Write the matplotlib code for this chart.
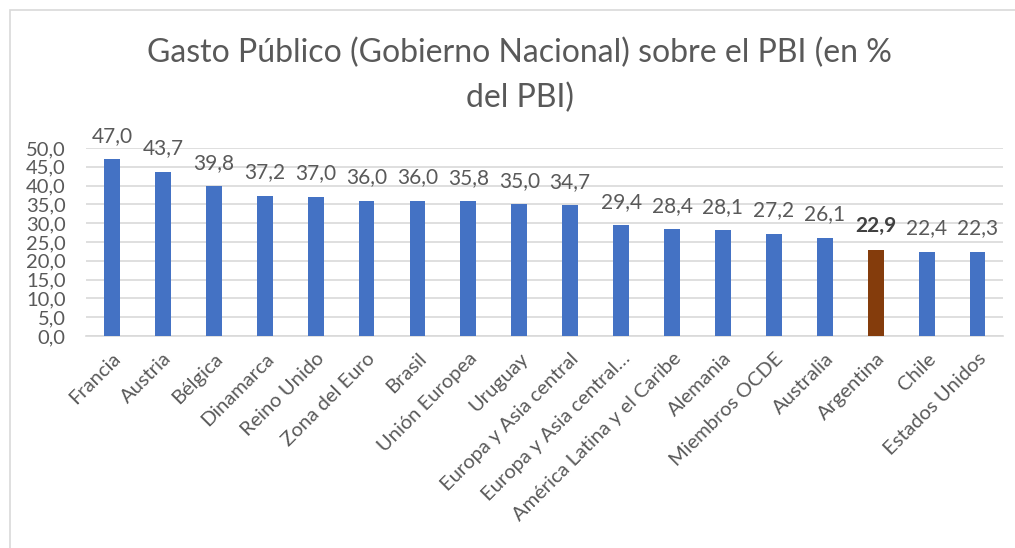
import matplotlib
matplotlib.use("Agg")
import matplotlib.pyplot as plt
from matplotlib.patches import Rectangle

plt.rcParams['font.family'] = ['Lato', 'DejaVu Sans']

paises = ["Francia", "Austria", "Bélgica", "Dinamarca", "Reino Unido",
          "Zona del Euro", "Brasil", "Unión Europea", "Uruguay",
          "Europa y Asia central", "Europa y Asia central…",
          "América Latina y el Caribe", "Alemania", "Miembros OCDE",
          "Australia", "Argentina", "Chile", "Estados Unidos"]
gasto = [47.0, 43.7, 39.8, 37.2, 37.0, 36.0, 36.0, 35.8, 35.0, 34.7,
         29.4, 28.4, 28.1, 27.2, 26.1, 22.9, 22.4, 22.3]
destacado = "Argentina"
y_ticks = [0, 5, 10, 15, 20, 25, 30, 35, 40, 45, 50]

gris = "#595959"
azul = "#4472C4"
marron = "#843C0C"

fig = plt.figure(figsize=(10.15, 5.48), dpi=100)
ax = fig.add_axes([0.0852, 0.387, 0.903, 0.343])

colores = [marron if p == destacado else azul for p in paises]
x = range(len(paises))
bars = ax.bar(x, gasto, width=0.31, color=colores, zorder=3)

for i, (b, v) in enumerate(zip(bars, gasto)):
    peso = "bold" if paises[i] == destacado else "normal"
    ax.text(b.get_x() + b.get_width() / 2, v + 3.6, f"{v:.1f}".replace(".", ","),
            ha="center", va="bottom", fontsize=15, color=gris if peso == "normal" else "#404040",
            fontweight=peso)

ax.set_xlim(-0.5, len(paises) - 0.5)
ax.set_ylim(0, 50)
ax.set_yticks(y_ticks)
ax.set_yticklabels([f"{t:.1f}".replace(".", ",") for t in y_ticks], fontsize=14.5, color=gris)
ax.set_xticks(list(x))
ax.set_xticklabels(paises, rotation=45, ha="right", rotation_mode="anchor",
                   fontsize=14.5, color=gris)
ax.tick_params(axis="x", length=0, pad=10)
ax.tick_params(axis="y", length=0, pad=15)
ax.grid(axis="y", color="#d9d9d9", linewidth=1.2, zorder=0)
for s in ["top", "right", "left"]:
    ax.spines[s].set_visible(False)
ax.spines["bottom"].set_color("#d9d9d9")
ax.spines["bottom"].set_linewidth(1.2)

fig.text(0.512, 0.903, "Gasto Público (Gobierno Nacional) sobre el PBI (en %",
         ha="center", va="center", fontsize=23, color=gris)
fig.text(0.512, 0.822, "del PBI)", ha="center", va="center", fontsize=23, color=gris)

fig.patches.append(Rectangle((0.010, -0.05), 1.1, 1.031, transform=fig.transFigure,
                             fill=False, edgecolor="#d9d9d9", linewidth=1.2))

fig.savefig("out.png", dpi=100)
